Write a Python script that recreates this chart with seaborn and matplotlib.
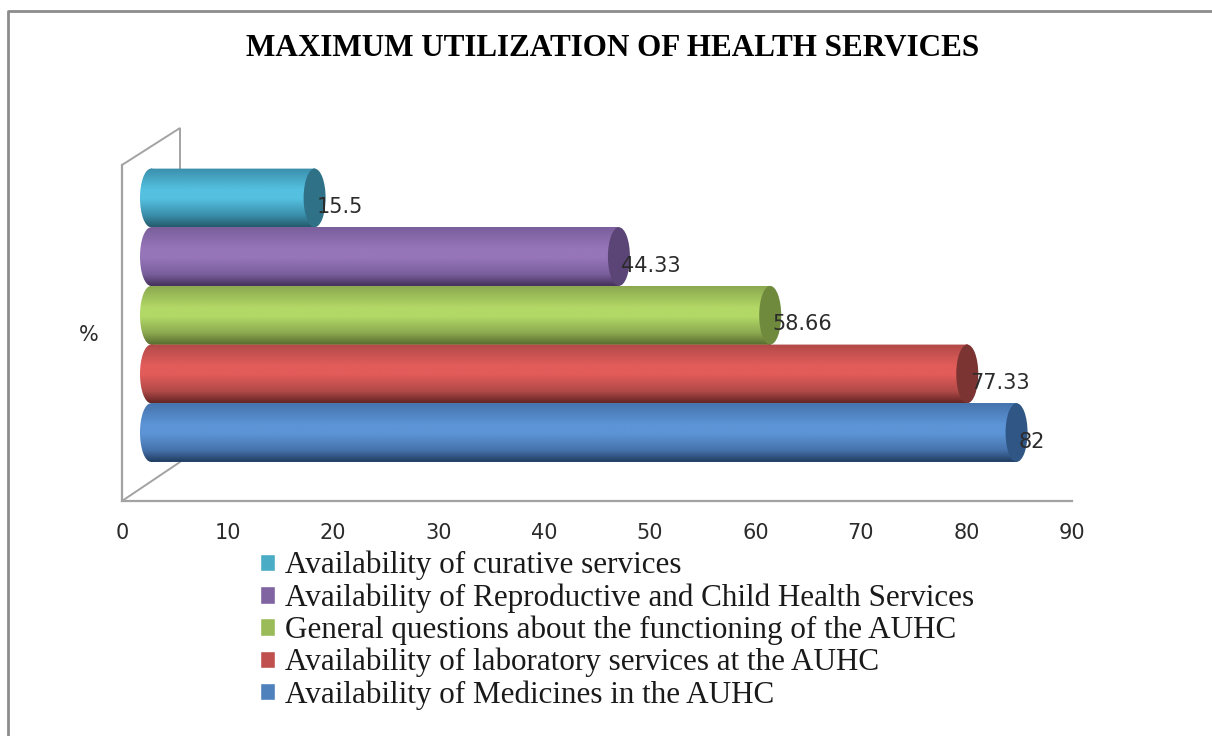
import numpy as np
import pandas as pd
import matplotlib
matplotlib.use("Agg")
import matplotlib.pyplot as plt
from matplotlib.colors import LinearSegmentedColormap
from matplotlib.lines import Line2D
from matplotlib.patches import Ellipse
from matplotlib.path import Path
from matplotlib.transforms import Affine2D
import seaborn as sns

# ---- data ----
services = [
    "Availability of curative services",
    "Availability of Reproductive and Child Health Services",
    "General questions about the functioning of the AUHC",
    "Availability of laboratory services at the AUHC",
    "Availability of Medicines in the AUHC",
]
values = [15.5, 44.33, 58.66, 77.33, 82]
value_labels = ["15.5", "44.33", "58.66", "77.33", "82"]
x_ticks = [0, 10, 20, 30, 40, 50, 60, 70, 80, 90]
title = "MAXIMUM UTILIZATION OF HEALTH SERVICES"
y_label = "%"

# ---- styles ----
legend_colors = ["#4BACC6", "#8064A2", "#9BBB59", "#C0504D", "#4F81BD"]
mid_colors = ["#55C0E0", "#9675B8", "#B2D866", "#E25C5A", "#5C94D6"]
top_colors = ["#3A8FAB", "#7A5F9C", "#8BA850", "#B04A48", "#4673AC"]
bottom_colors = ["#255A6C", "#45315C", "#566B2E", "#632524", "#203C60"]
cap_colors = ["#2F7287", "#5A4576", "#6F8A3C", "#7C3433", "#2F5685"]
W, H = 1212, 736
DPI = 100
AX_L, AX_R, AX_T, AX_B = 122, 1072, 128, 501
GRAY = "#A3A3A3"
CAP_RX = 11.0 / (950 / 90)
DEPTH = 29.0 / (950 / 90)

sns.set_theme(style="white")
plt.rcParams["font.family"] = ["DejaVu Sans"]

fig = plt.figure(figsize=(W / DPI, H / DPI), dpi=DPI, facecolor="white")
ax = fig.add_axes([AX_L / W, 1 - AX_B / H, (AX_R - AX_L) / W, (AX_B - AX_T) / H])
ax.set_facecolor("none")

df = pd.DataFrame({"service": services, "value": values})
sns.barplot(data=df, y="service", x="value", hue="service", hue_order=services,
            palette=legend_colors, saturation=1, dodge=False, width=1.0,
            legend=True, ax=ax, zorder=2)
handles, labels = ax.get_legend_handles_labels()
ax.get_legend().remove()

for i, (cont, v) in enumerate(zip(ax.containers, values)):
    bar = cont[0]
    h = bar.get_height()
    yc = bar.get_y() + h / 2
    bar.set_x(DEPTH)
    z = 3 + i
    bar.set_zorder(z)
    bar.set_linewidth(0)
    cmap = LinearSegmentedColormap.from_list(
        "c", [(0, top_colors[i]), (0.36, mid_colors[i]), (0.52, mid_colors[i]),
              (0.8, top_colors[i]), (1, bottom_colors[i])])
    grad = np.linspace(0, 1, 128).reshape(-1, 1)
    im = ax.imshow(grad, cmap=cmap, aspect="auto", origin="upper",
                   extent=(DEPTH - CAP_RX, DEPTH + v, yc + h / 2, yc - h / 2),
                   zorder=z, interpolation="bilinear")
    body = Path.make_compound_path(
        Path.unit_rectangle().transformed(Affine2D().scale(v, h).translate(DEPTH, yc - h / 2)),
        Path.unit_circle().transformed(Affine2D().scale(CAP_RX, h / 2).translate(DEPTH, yc)),
        Path.unit_circle().transformed(Affine2D().scale(CAP_RX, h / 2).translate(DEPTH + v, yc)),
    )
    im.set_clip_path(body, transform=ax.transData)
    ax.add_patch(Ellipse((DEPTH + v, yc), 2 * CAP_RX, h, facecolor=cap_colors[i],
                         edgecolor="none", zorder=z + 0.5))
    ax.annotate(value_labels[i], (DEPTH + v, yc), xytext=(2.5 * 0.72, -9 * 0.72),
                textcoords="offset points", ha="left", va="center", fontsize=15,
                color="#2B2B2B", zorder=20)

ax.set_xlim(0, 90)
ax.set_ylim(4 + (AX_B - 432.5) / 58.7, 0 - (198 - AX_T) / 58.7)
ax.set_xticks(x_ticks)
ax.set_yticks([])
ax.set_xlabel("")
ax.tick_params(axis="x", length=0, pad=15.5, labelsize=15, labelcolor="#2B2B2B")
for s in ("top", "right"):
    ax.spines[s].set_visible(False)
for s in ("left", "bottom"):
    ax.spines[s].set_color(GRAY)
    ax.spines[s].set_linewidth(1.6)
ax.spines["left"].set_bounds(ax.get_ylim()[0], ax.get_ylim()[0] + (AX_B - 165) / (AX_B - AX_T) * (ax.get_ylim()[1] - ax.get_ylim()[0]))

ax.set_ylabel(y_label, rotation=0, fontsize=15, color="#2B2B2B", ha="center", va="center")
ax.yaxis.set_label_coords((89 - AX_L) / (AX_R - AX_L), (AX_B - 335) / (AX_B - AX_T))


def fx(px):
    return px / W


def fy(py):
    return 1 - py / H


# 3-D side wall of the chart, behind the bars
fig.add_artist(Line2D([fx(122), fx(180), fx(180), fx(122)],
                      [fy(165), fy(128), fy(462), fy(501)],
                      color=GRAY, lw=1.4, zorder=-1, solid_joinstyle="miter"))
# outer chart frame
fig.add_artist(Line2D([fx(8), fx(8), fx(1212)], [fy(736), fy(11), fy(11)],
                      color="#8C8C8C", lw=2.0, zorder=-1))

fig.text(fx(613), fy(48.5), title, family="Liberation Serif", fontweight="bold",
         fontsize=22.4, color="black", ha="center", va="center")

fig.legend(handles, labels, loc="upper left", bbox_to_anchor=(fx(259.5), fy(551)),
           frameon=False, borderpad=0, borderaxespad=0,
           prop={"family": "Liberation Serif", "size": 22.4},
           handlelength=0.49, handleheight=0.49, handletextpad=0.34,
           labelspacing=0.09, labelcolor="#1A1A1A")

fig.savefig("out.png", dpi=DPI, facecolor="white")
